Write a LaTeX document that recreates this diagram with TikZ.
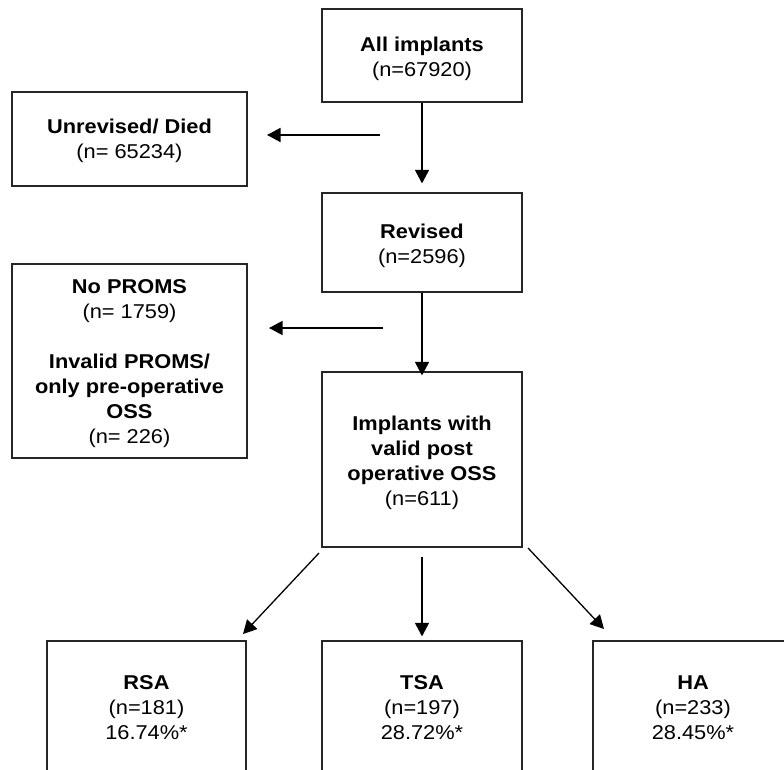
\documentclass[tikz,border=0pt]{standalone}
\usepackage{fontspec}
\setmainfont{Liberation Sans}[FakeStretch=1.09]
\usetikzlibrary{arrows.meta}
\begin{document}
\begin{tikzpicture}[x=1pt,y=-1pt,
  box/.style={draw=black!85,line width=1.2pt,rectangle,inner sep=0pt},
  label/.style={anchor=base,align=center,inner sep=0pt,font=\fontsize{20}{25}\selectfont},
  arr/.style={draw=black,line width=1.3pt,-{Triangle[length=13.5pt,width=14pt]}}]
\useasboundingbox (0,0) rectangle (784,770);
\clip (0,0) rectangle (784,770);
% boxes
\node[box,minimum width=200pt,minimum height=93pt] (all) at (422,55.5) {};
\node[box,minimum width=235pt,minimum height=94pt] (unrev) at (129.5,139) {};
\node[box,minimum width=200pt,minimum height=99pt] (rev) at (422,242.5) {};
\node[box,minimum width=235pt,minimum height=194pt] (noproms) at (129.5,361) {};
\node[box,minimum width=200pt,minimum height=175pt] (impl) at (422,459.5) {};
\node[box,minimum width=199pt,minimum height=180pt] (rsa) at (146.5,731) {};
\node[box,minimum width=200pt,minimum height=180pt] (tsa) at (422,731) {};
\node[box,minimum width=200pt,minimum height=180pt] (ha) at (693,731) {};
% texts (anchored at the baseline of the last line)
\node[label] (tall) at (422,77) {\textbf{All implants}\\(n=67920)};
\node[label] (tunrev) at (129.5,159) {\textbf{Unrevised/ Died}\\(n= 65234)};
\node[label] (trev) at (422,263) {\textbf{Revised}\\(n=2596)};
\node[label] (tnoproms) at (129.5,443) {\textbf{No PROMS}\\(n= 1759)\\[25pt]\textbf{Invalid PROMS/}\\\textbf{only pre-operative}\\\textbf{OSS}\\(n= 226)};
\node[label] (timpl) at (422,505) {\textbf{Implants with}\\\textbf{valid post}\\\textbf{operative OSS}\\(n=611)};
\node[label] (trsa) at (146.5,739) {\textbf{RSA}\\(n=181)\\16.74\%*};
\node[label] (ttsa) at (422,739) {\textbf{TSA}\\(n=197)\\28.72\%*};
\node[label] (tha) at (693,739) {\textbf{HA}\\(n=233)\\28.45\%*};
% connector end points
\coordinate (u0) at (380,135);
\coordinate (u1) at (267,135);
\coordinate (p0) at (383,328);
\coordinate (p1) at (269,328);
\coordinate (d0) at (319,553);
\coordinate (d1) at (243,634);
\coordinate (e0) at (528,548);
\coordinate (e1) at (604,629);
% connectors
\draw[arr] (all.south) -- ([yshift=9pt]rev.north);
\draw[arr] (u0) -- (u1);
\draw[arr] (rev.south) -- ([yshift=-4pt]rev.north |- impl.north);
\draw[arr] (p0) -- (p1);
\draw[arr] (d0) -- (d1);
\draw[arr] ([yshift=-9pt]impl.south) -- ([yshift=4pt]tsa.north);
\draw[arr] (e0) -- (e1);
\end{tikzpicture}
\end{document}
